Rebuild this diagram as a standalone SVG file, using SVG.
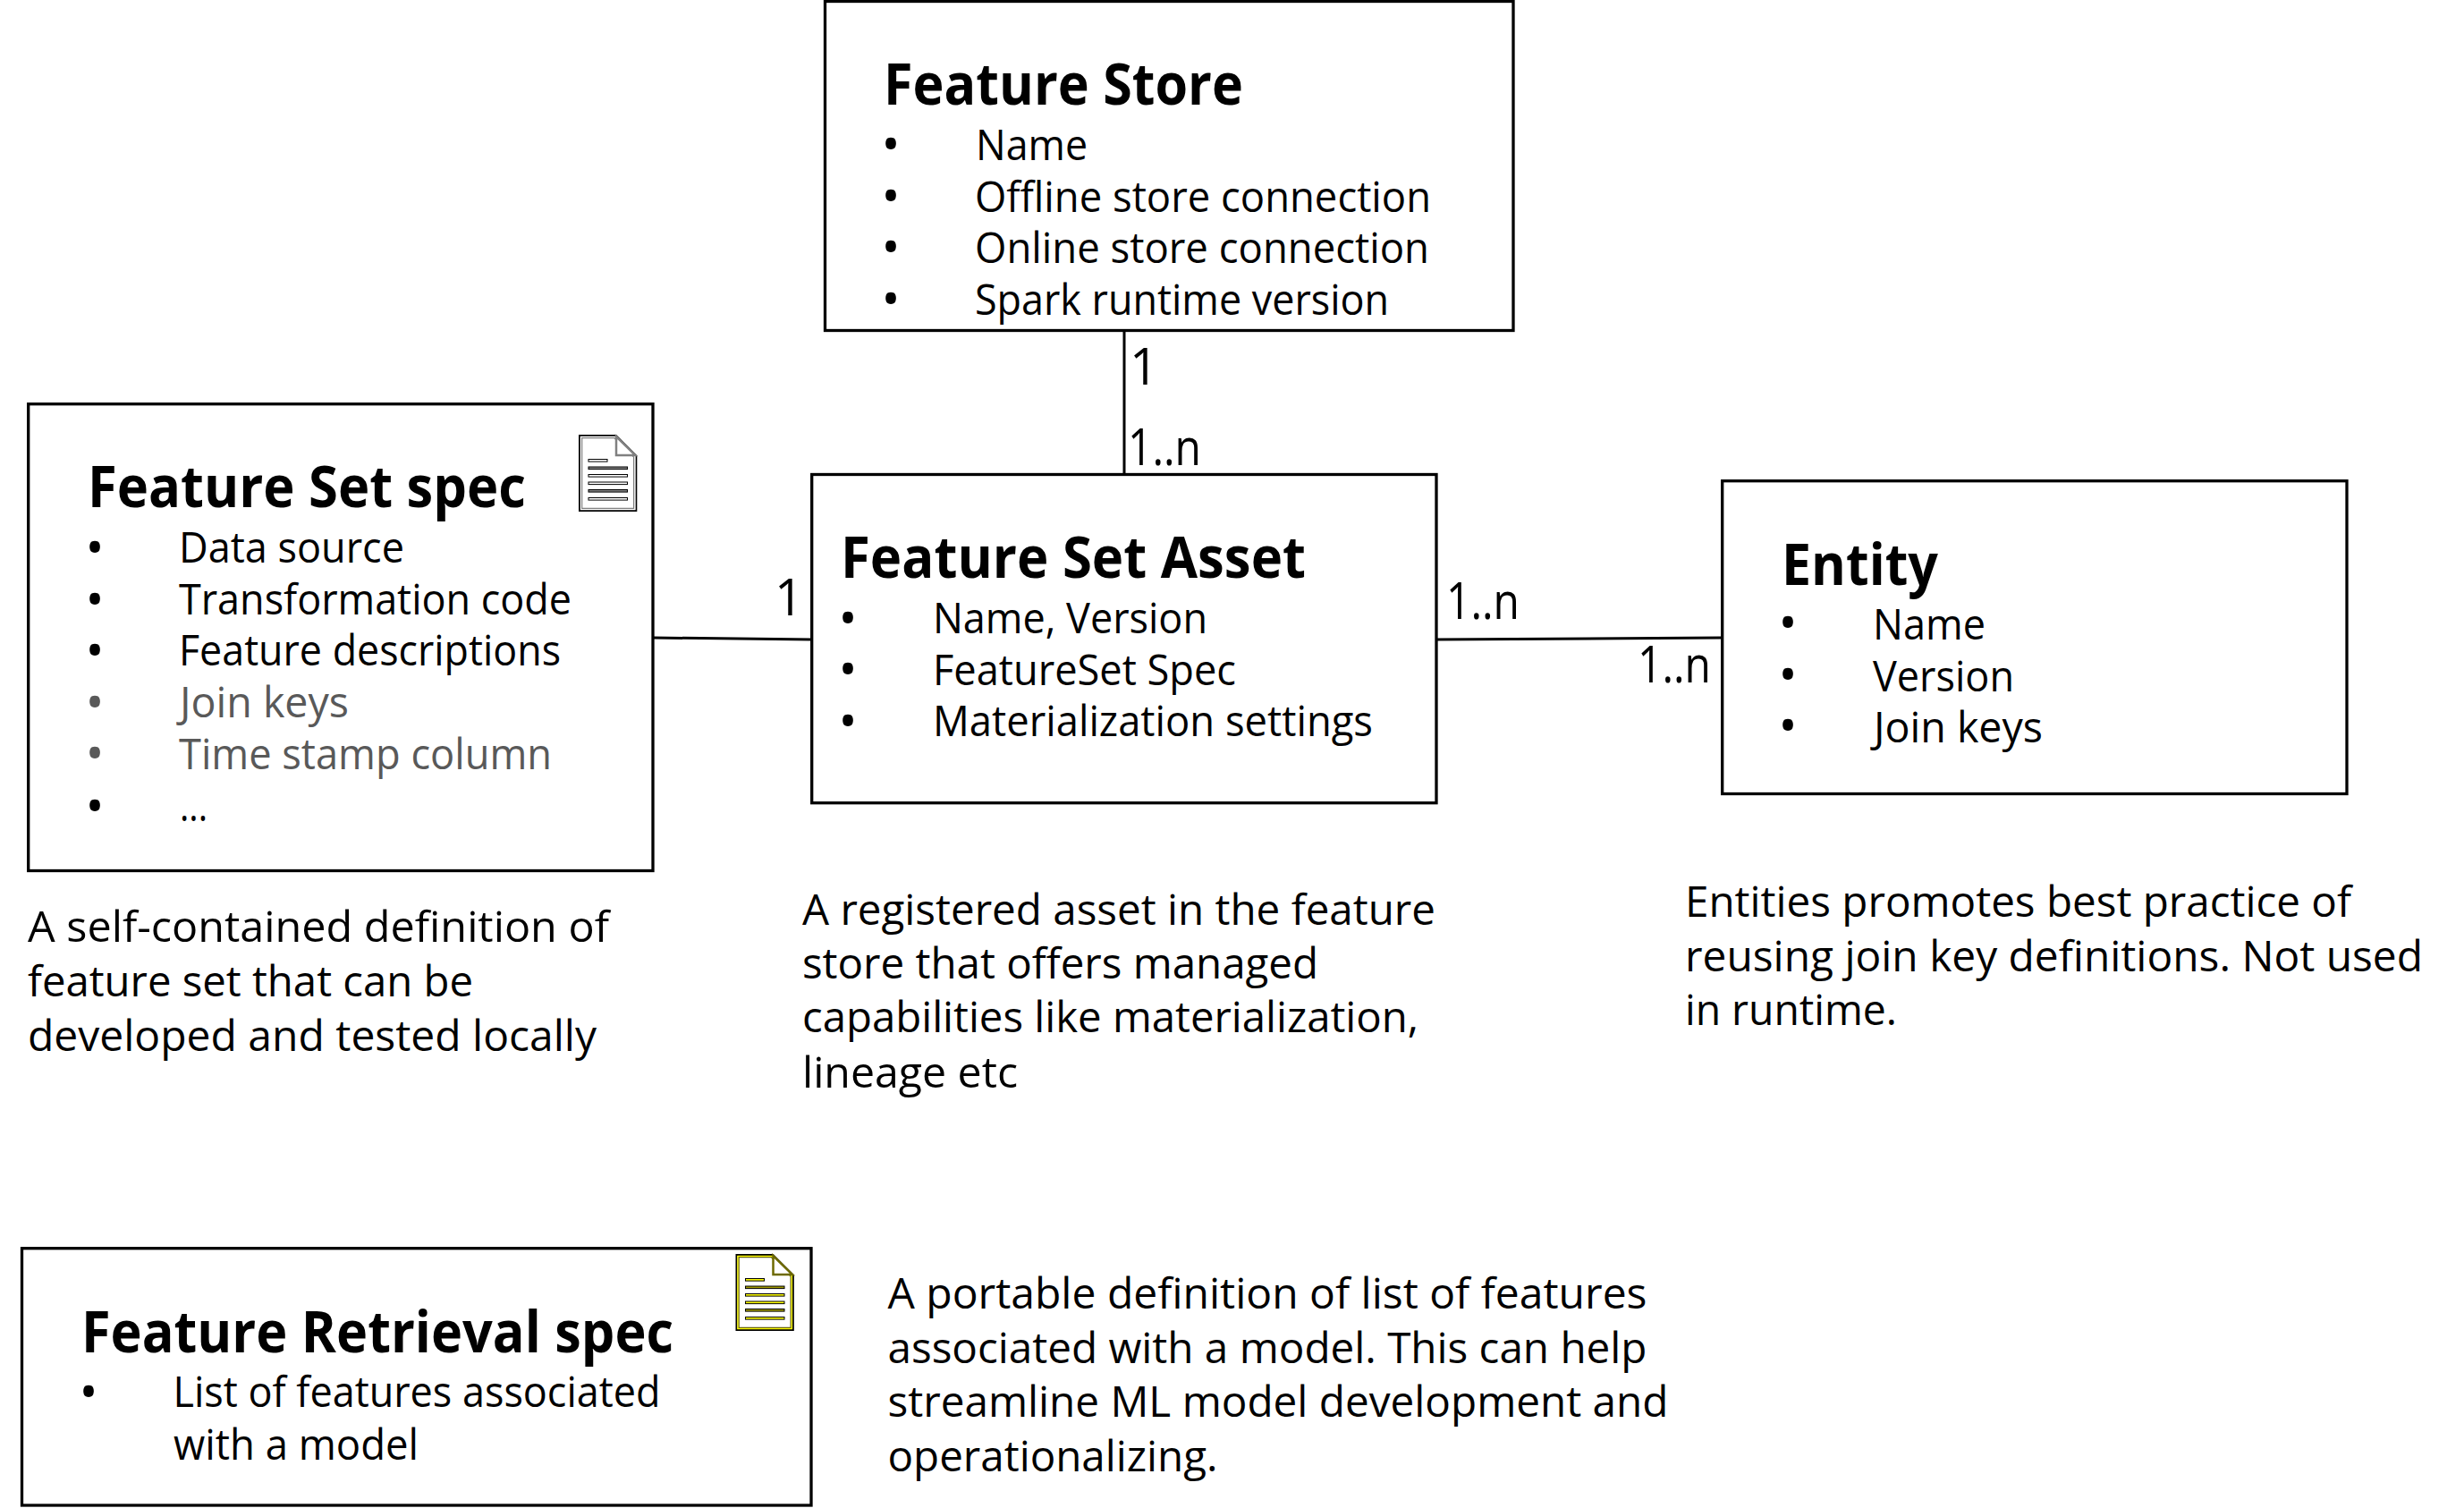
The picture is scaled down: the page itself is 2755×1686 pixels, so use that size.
<svg xmlns="http://www.w3.org/2000/svg" xmlns:xlink="http://www.w3.org/1999/xlink" width="2755" height="1686" viewBox="0 0 2755 1686">
<style>
text{font-family:"Open Sans","Noto Sans","Liberation Sans",sans-serif;fill:#000}
.t{font-size:64px;font-weight:700}
.b{font-size:48px}
.d{font-size:48px}
.m{font-size:56px}
.g{fill:#595959}
.u{text-anchor:middle;font-size:56px}
.box{fill:#fff;stroke:#000;stroke-width:3.3}
.c{fill:none;stroke:#000;stroke-width:3}
.i0{fill:#fff;stroke:#000;stroke-width:2}
.i1{fill:none;stroke:var(--a);stroke-width:1.5}
.i2{fill:none;stroke:var(--s);stroke-width:1.2}
.l1{fill:var(--a);stroke:#000;stroke-width:1}
.l2{fill:var(--m);stroke:#000;stroke-width:1}
.gray{--a:#fff;--m:#808080;--s:#808080}
.olive{--a:#ff0;--m:#a09a00;--s:#6e6a00}
</style>
<defs>
<g id="doc">
<path class="i0" d="M1 1H41.7L64.3 23.6V85H1Z"/>
<path class="i1" d="M2.5 2.5H41L62.8 24.2V83.5H2.5Z"/>
<path class="i2" d="M3.7 3.7H40L61.6 25V82.3H3.7Z"/>
<path fill="#fff" stroke="var(--s)" stroke-width="2.5" d="M42 2V23H63.5Z"/>
<rect class="l1" x="11" y="27.5" width="21" height="2.6"/>
<rect class="l2" x="11" y="36" width="43.5" height="2.6"/>
<rect class="l1" x="11" y="44.5" width="43.5" height="2.6"/>
<rect class="l1" x="11" y="53" width="43.5" height="2.6"/>
<rect class="l2" x="11" y="61.5" width="43.5" height="2.6"/>
<rect class="l1" x="11" y="70.5" width="43.5" height="2.6"/>
</g>
</defs>
<rect width="2755" height="1686" fill="#fff"/>
<g id="connectors">
<path class="c" d="M1257 369V530"/>
<path class="c" d="M730 713L908 715"/>
<path class="c" d="M1606 715L1925 713"/>
<text class="m" x="1263" y="430">1</text>
<text class="m" x="1261" y="520" textLength="82" lengthAdjust="spacingAndGlyphs">1..n</text>
<text class="m" x="866" y="688">1</text>
<text class="m" x="1617" y="692" textLength="82" lengthAdjust="spacingAndGlyphs">1..n</text>
<text class="m" x="1831" y="763" textLength="82" lengthAdjust="spacingAndGlyphs">1..n</text>
</g>
<g id="feature-store">
<rect class="box" x="922.5" y="1.5" width="769.5" height="368"/>
<text class="t" x="988" y="117" textLength="402" lengthAdjust="spacingAndGlyphs">Feature Store</text>
<text class="b u" x="996" y="181">•</text><text class="b" x="1091" y="178.5" textLength="125" lengthAdjust="spacingAndGlyphs">Name</text>
<text class="b u" x="996" y="239">•</text><text class="b" x="1090" y="236.5" textLength="510" lengthAdjust="spacingAndGlyphs">Offline store connection</text>
<text class="b u" x="996" y="296">•</text><text class="b" x="1090" y="294" textLength="508" lengthAdjust="spacingAndGlyphs">Online store connection</text>
<text class="b u" x="996" y="354">•</text><text class="b" x="1090" y="352" textLength="463" lengthAdjust="spacingAndGlyphs">Spark runtime version</text>
</g>
<g id="feature-set-spec">
<rect class="box" x="31.7" y="451.7" width="698.3" height="521.8"/>
<text class="t" x="98" y="567" textLength="490" lengthAdjust="spacingAndGlyphs">Feature Set spec</text>
<text class="b u" x="106" y="632">•</text><text class="b" x="200" y="629" textLength="252" lengthAdjust="spacingAndGlyphs">Data source</text>
<text class="b u" x="106" y="690">•</text><text class="b" x="200" y="687" textLength="439" lengthAdjust="spacingAndGlyphs">Transformation code</text>
<text class="b u" x="106" y="747">•</text><text class="b" x="200" y="744" textLength="427" lengthAdjust="spacingAndGlyphs">Feature descriptions</text>
<text class="b u g" x="106" y="805">•</text><text class="b g" x="201" y="802" textLength="189" lengthAdjust="spacingAndGlyphs">Join keys</text>
<text class="b u g" x="106" y="862">•</text><text class="b g" x="200" y="860" textLength="417" lengthAdjust="spacingAndGlyphs">Time stamp column</text>
<text class="b u" x="106" y="921">•</text><text class="b" x="201" y="918" textLength="31" lengthAdjust="spacingAndGlyphs">...</text>
<use class="gray" href="#doc" xlink:href="#doc" x="647" y="486"/>
</g>
<g id="feature-set-asset">
<rect class="box" x="907.7" y="530.5" width="698.3" height="367.2"/>
<text class="t" x="940" y="646" textLength="520" lengthAdjust="spacingAndGlyphs">Feature Set Asset</text>
<text class="b u" x="948" y="711">•</text><text class="b" x="1043" y="708" textLength="307" lengthAdjust="spacingAndGlyphs">Name, Version</text>
<text class="b u" x="948" y="768">•</text><text class="b" x="1043" y="765.5" textLength="339" lengthAdjust="spacingAndGlyphs">FeatureSet Spec</text>
<text class="b u" x="948" y="826">•</text><text class="b" x="1043" y="823" textLength="492" lengthAdjust="spacingAndGlyphs">Materialization settings</text>
</g>
<g id="entity">
<rect class="box" x="1925.7" y="537.7" width="698.3" height="349.8"/>
<text class="t" x="1992" y="654" textLength="175" lengthAdjust="spacingAndGlyphs">Entity</text>
<text class="b u" x="1999" y="716">•</text><text class="b" x="2094" y="714.5" textLength="126" lengthAdjust="spacingAndGlyphs">Name</text>
<text class="b u" x="1999" y="774">•</text><text class="b" x="2094" y="772.5" textLength="158" lengthAdjust="spacingAndGlyphs">Version</text>
<text class="b u" x="1999" y="831">•</text><text class="b" x="2095" y="829.5" textLength="189" lengthAdjust="spacingAndGlyphs">Join keys</text>
</g>
<g id="feature-retrieval-spec">
<rect class="box" x="24.5" y="1395.7" width="882.5" height="287.3"/>
<text class="t" x="91" y="1512" textLength="662" lengthAdjust="spacingAndGlyphs">Feature Retrieval spec</text>
<text class="b u" x="99" y="1576">•</text><text class="b" x="193.5" y="1573" textLength="545" lengthAdjust="spacingAndGlyphs">List of features associated</text>
<text class="b" x="194" y="1631.5" textLength="274" lengthAdjust="spacingAndGlyphs">with a model</text>
<use class="olive" href="#doc" xlink:href="#doc" x="822.5" y="1402"/>
</g>
<g id="desc-spec">
<text class="d" x="31" y="1053" textLength="650" lengthAdjust="spacingAndGlyphs">A self-contained definition of</text>
<text class="d" x="31" y="1114" textLength="498" lengthAdjust="spacingAndGlyphs">feature set that can be</text>
<text class="d" x="31" y="1174.5" textLength="636" lengthAdjust="spacingAndGlyphs">developed and tested locally</text>
</g>
<g id="desc-asset">
<text class="d" x="897" y="1033.5" textLength="708" lengthAdjust="spacingAndGlyphs">A registered asset in the feature</text>
<text class="d" x="897" y="1094" textLength="577" lengthAdjust="spacingAndGlyphs">store that offers managed</text>
<text class="d" x="897" y="1154" textLength="689" lengthAdjust="spacingAndGlyphs">capabilities like materialization,</text>
<text class="d" x="897" y="1215.5" textLength="241" lengthAdjust="spacingAndGlyphs">lineage etc</text>
</g>
<g id="desc-entity">
<text class="d" x="1884" y="1024.5" textLength="745" lengthAdjust="spacingAndGlyphs">Entities promotes best practice of</text>
<text class="d" x="1884" y="1085.5" textLength="825" lengthAdjust="spacingAndGlyphs">reusing join key definitions. Not used</text>
<text class="d" x="1884" y="1145.5" textLength="237" lengthAdjust="spacingAndGlyphs">in runtime.</text>
</g>
<g id="desc-retrieval">
<text class="d" x="992.5" y="1462.5" textLength="849" lengthAdjust="spacingAndGlyphs">A portable definition of list of features</text>
<text class="d" x="992.5" y="1524" textLength="849" lengthAdjust="spacingAndGlyphs">associated with a model. This can help</text>
<text class="d" x="992.5" y="1584" textLength="873" lengthAdjust="spacingAndGlyphs">streamline ML model development and</text>
<text class="d" x="992.5" y="1644.5" textLength="369" lengthAdjust="spacingAndGlyphs">operationalizing.</text>
</g>
</svg>
